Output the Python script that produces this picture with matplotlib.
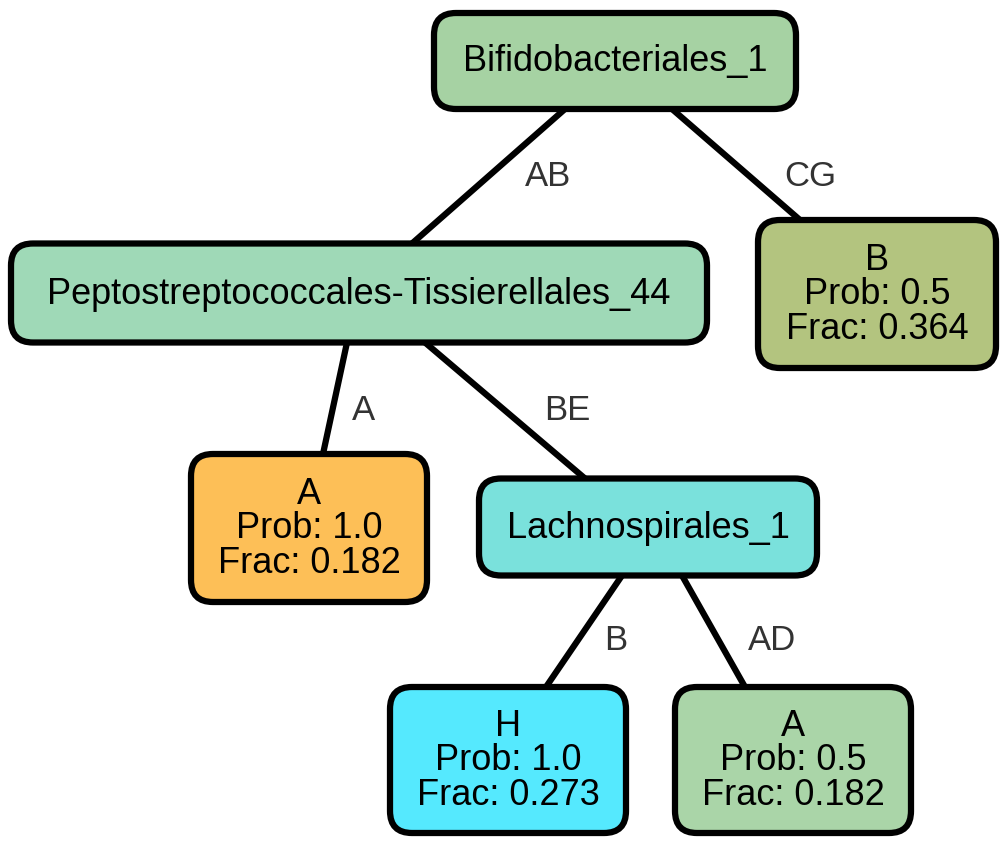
import matplotlib as mpl
mpl.use('Agg')
import matplotlib.pyplot as plt
from matplotlib.patches import FancyBboxPatch

# node: (label, cx, cy, w, h, color) in pixel coords
names = ["Bifidobacteriales_1", "Peptostreptococcales-Tissierellales_44", "B\nProb: 0.5\nFrac: 0.364",
         "A\nProb: 1.0\nFrac: 0.182", "Lachnospirales_1", "H\nProb: 1.0\nFrac: 0.273", "A\nProb: 0.5\nFrac: 0.182"]
cx = [615, 359, 877, 309, 648, 508, 793]
cy = [61, 293, 294, 528, 527, 760, 760]
bw = [362, 696, 238, 236, 338, 236, 236]
bh = [96, 99, 148, 148, 97, 146, 146]
colors = ["#A6D2A3", "#9FD9B7", "#B3C47F", "#FDBF57", "#7AE1DC", "#55E9FE", "#AAD5A8"]

# edges: parent, child, label, start x, end x, label pos
edges = [(0, 1, "AB", 565, 412, (548, 177)),
         (0, 2, "CG", 672, 800, (810, 177)),
         (1, 3, "A", 347, 323, (364, 410)),
         (1, 4, "BE", 425, 585, (567, 410)),
         (4, 5, "B", 622, 546, (616, 641)),
         (4, 6, "AD", 682, 745, (772, 641))]

fig = plt.figure(figsize=(10.06, 8.46), dpi=100)
ax = fig.add_axes([0, 0, 1, 1])
ax.set_xlim(0, 1006)
ax.set_ylim(846, 0)
ax.axis('off')
font = 'Liberation Sans'

for p, c, lab, x0, x1, lp in edges:
    y0 = cy[p] + bh[p] / 2
    y1 = cy[c] - bh[c] / 2
    ax.plot([x0, x1], [y0, y1], color='black', lw=4.5, zorder=1, solid_capstyle='butt')
    ax.text(lp[0], lp[1], lab, ha='center', va='center', fontsize=25, color='#333333', family=font)

for i in range(len(names)):
    r = 22
    box = FancyBboxPatch((cx[i] - bw[i] / 2 + r, cy[i] - bh[i] / 2 + r), bw[i] - 2 * r, bh[i] - 2 * r,
                         boxstyle="round,pad=%d" % r, fc=colors[i], ec='black', lw=4.5, zorder=2)
    ax.add_patch(box)
    ax.text(cx[i], cy[i] + 1, names[i], ha='center', va='center', fontsize=26, family=font,
            linespacing=0.98, zorder=3)

fig.savefig('out.png', dpi=100)
